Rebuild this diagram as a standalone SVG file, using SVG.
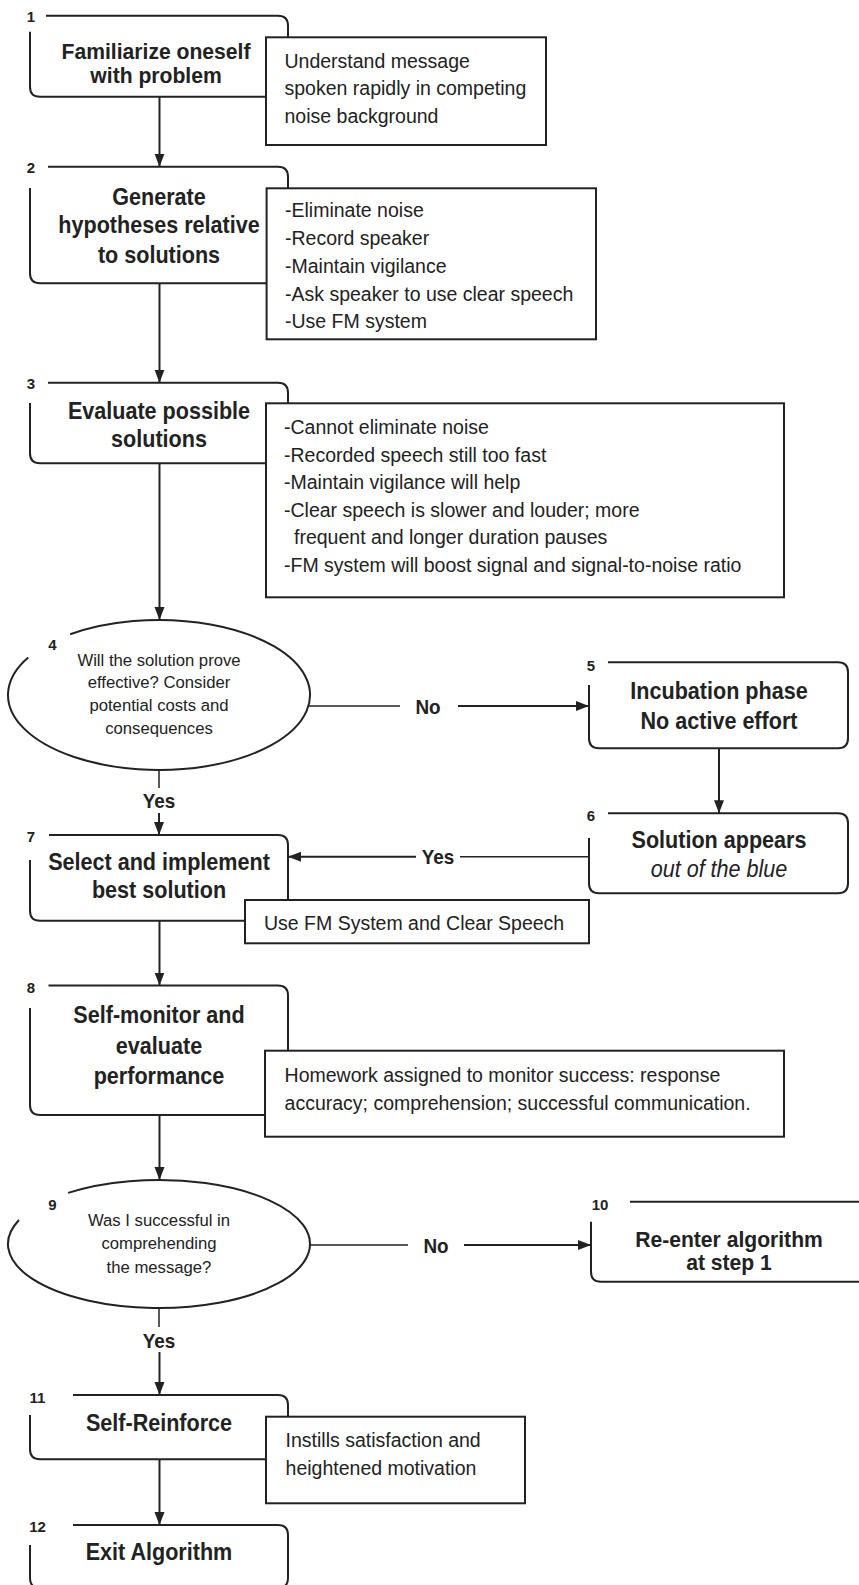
<svg xmlns="http://www.w3.org/2000/svg" width="859" height="1585" viewBox="0 0 859 1585">
  <style>
    .frame { fill: none; stroke: #222; stroke-width: 2; }
    .tbox { fill: #fff; stroke: #222; stroke-width: 2; }
    .conn { fill: none; stroke: #222; stroke-width: 2; }
    .thin { fill: none; stroke: #222; stroke-width: 1.5; }
    text { font-family: "Liberation Sans", Arial, sans-serif; fill: #222; }
    .title { font-weight: bold; font-size: 23.2px; text-anchor: middle; }
    .tight { font-size: 22px; }
    .body { font-size: 19.5px; }
    .q { font-size: 16.7px; text-anchor: middle; }
    .num { font-weight: bold; font-size: 15px; text-anchor: middle; }
    .lbl { font-weight: bold; font-size: 21px; text-anchor: middle; }
    .ital { font-style: italic; font-size: 23.2px; text-anchor: middle; }
  </style>
  <defs>
    <marker id="arrow" markerUnits="userSpaceOnUse" markerWidth="14" markerHeight="12" refX="13" refY="5" orient="auto">
      <path d="M0,0 L13,5 L0,10 z" fill="#222"/>
    </marker>
  </defs>
  <rect width="859" height="1585" fill="#fff"/>

  <!-- connectors -->
  <g id="connectors">
    <path class="conn" d="M159.5,96.7 V166.7" marker-end="url(#arrow)"/>
    <path class="conn" d="M159.5,283.3 V382.7" marker-end="url(#arrow)"/>
    <path class="conn" d="M159.5,463.3 V620" marker-end="url(#arrow)"/>
    <!-- decision 4: No -->
    <path class="thin" d="M308,706 H400"/>
    <text class="lbl" transform="translate(428,713.5) scale(0.9,1)">No</text>
    <path class="conn" d="M458,706 H589" marker-end="url(#arrow)"/>
    <!-- decision 4: Yes -->
    <path class="thin" d="M159,770.7 V788"/>
    <text class="lbl" transform="translate(159,808) scale(0.9,1)">Yes</text>
    <path class="conn" d="M159,813 V835" marker-end="url(#arrow)"/>
    <!-- 5 to 6 -->
    <path class="conn" d="M719,748.3 V813.3" marker-end="url(#arrow)"/>
    <!-- 6 to 7 -->
    <path class="thin" d="M589,856.7 H460"/>
    <text class="lbl" transform="translate(438,864) scale(0.9,1)">Yes</text>
    <path class="conn" d="M416,856.7 H288" marker-end="url(#arrow)"/>
    <!-- 7 to 8, 8 to 9 -->
    <path class="conn" d="M159.5,920.7 V985.5" marker-end="url(#arrow)"/>
    <path class="conn" d="M159.5,1115 V1180" marker-end="url(#arrow)"/>
    <!-- decision 9: No -->
    <path class="thin" d="M309,1245 H408"/>
    <text class="lbl" transform="translate(436,1252.5) scale(0.9,1)">No</text>
    <path class="conn" d="M464,1245 H591" marker-end="url(#arrow)"/>
    <!-- decision 9: Yes -->
    <path class="thin" d="M159,1308 V1327"/>
    <text class="lbl" transform="translate(159,1348) scale(0.9,1)">Yes</text>
    <path class="conn" d="M159.5,1352 V1395" marker-end="url(#arrow)"/>
    <!-- 11 to 12 -->
    <path class="conn" d="M159.5,1459.3 V1525" marker-end="url(#arrow)"/>
  </g>

  <!-- step 1 -->
  <g id="step1">
    <text class="num" x="31" y="22">1</text>
    <path class="frame" d="M46,15.7 H278 Q288,15.7 288,25.7 V37.3"/>
    <path class="frame" d="M30,31.7 V86.7 Q30,96.7 40,96.7 H266"/>
    <text class="title tight" transform="translate(156,58.5) scale(0.96,1)">Familiarize oneself</text>
    <text class="title tight" transform="translate(156,83) scale(0.96,1)">with problem</text>
    <rect class="tbox" x="266" y="37.3" width="280" height="107.7"/>
    <text class="body" x="284.5" y="67.7">Understand message</text>
    <text class="body" x="284.5" y="95">spoken rapidly in competing</text>
    <text class="body" x="284.5" y="122.7">noise background</text>
  </g>

  <!-- step 2 -->
  <g id="step2">
    <text class="num" x="31" y="173.3">2</text>
    <path class="frame" d="M48,166.7 H278 Q288,166.7 288,176.7 V188.3"/>
    <path class="frame" d="M30,188 V273.3 Q30,283.3 40,283.3 H266.6"/>
    <text class="title" transform="translate(159,205) scale(0.93,1)">Generate</text>
    <text class="title" transform="translate(159,233.3) scale(0.93,1)">hypotheses relative</text>
    <text class="title" transform="translate(159,263.3) scale(0.93,1)">to solutions</text>
    <rect class="tbox" x="266.6" y="188.3" width="329.4" height="151"/>
    <text class="body" x="285" y="217.3">-Eliminate noise</text>
    <text class="body" x="285" y="245">-Record speaker</text>
    <text class="body" x="285" y="272.7">-Maintain vigilance</text>
    <text class="body" x="285" y="300.7">-Ask speaker to use clear speech</text>
    <text class="body" x="285" y="328.3">-Use FM system</text>
  </g>

  <!-- step 3 -->
  <g id="step3">
    <text class="num" x="31" y="389.3">3</text>
    <path class="frame" d="M48,382.7 H278 Q288,382.7 288,392.7 V403.3"/>
    <path class="frame" d="M30,403 V453.3 Q30,463.3 40,463.3 H266"/>
    <text class="title" transform="translate(159,419.3) scale(0.93,1)">Evaluate possible</text>
    <text class="title" transform="translate(159,447.3) scale(0.93,1)">solutions</text>
    <rect class="tbox" x="266" y="403.3" width="518" height="194"/>
    <text class="body" x="284" y="434">-Cannot eliminate noise</text>
    <text class="body" x="284" y="461.7">-Recorded speech still too fast</text>
    <text class="body" x="284" y="489.3">-Maintain vigilance will help</text>
    <text class="body" x="284" y="516.7">-Clear speech is slower and louder; more</text>
    <text class="body" x="294" y="544">frequent and longer duration pauses</text>
    <text class="body" x="284" y="571.7">-FM system will boost signal and signal-to-noise ratio</text>
  </g>

  <!-- step 4: decision -->
  <g id="step4">
    <path class="frame" d="M70.2,634.3 A151,75 0 1 1 28.2,657.5"/>
    <text class="num" x="52.5" y="650">4</text>
    <text class="q" x="159" y="666">Will the solution prove</text>
    <text class="q" x="159" y="688">effective? Consider</text>
    <text class="q" x="159" y="711">potential costs and</text>
    <text class="q" x="159" y="734">consequences</text>
  </g>

  <!-- step 5 -->
  <g id="step5">
    <text class="num" x="591" y="670.5">5</text>
    <path class="frame" d="M608,662.3 H838 Q848,662.3 848,672.3 V738.3 Q848,748.3 838,748.3 H599 Q589,748.3 589,738.3 V685"/>
    <text class="title" transform="translate(719,698.7) scale(0.93,1)">Incubation phase</text>
    <text class="title" transform="translate(719,728.7) scale(0.93,1)">No active effort</text>
  </g>

  <!-- step 6 -->
  <g id="step6">
    <text class="num" x="591" y="821">6</text>
    <path class="frame" d="M608,813.3 H838 Q848,813.3 848,823.3 V883.3 Q848,893.3 838,893.3 H599 Q589,893.3 589,883.3 V838"/>
    <text class="title" transform="translate(719,848) scale(0.93,1)">Solution appears</text>
    <text class="ital" transform="translate(719,877) scale(0.93,1)">out of the blue</text>
  </g>

  <!-- step 7 -->
  <g id="step7">
    <text class="num" x="31" y="841.7">7</text>
    <path class="frame" d="M49,835 H278 Q288,835 288,845 V900"/>
    <path class="frame" d="M30,860 V910.7 Q30,920.7 40,920.7 H245"/>
    <text class="title" transform="translate(159,869.7) scale(0.93,1)">Select and implement</text>
    <text class="title" transform="translate(159,898) scale(0.93,1)">best solution</text>
    <rect class="tbox" x="245" y="900" width="344" height="43.3"/>
    <text class="body" x="264" y="930">Use FM System and Clear Speech</text>
  </g>

  <!-- step 8 -->
  <g id="step8">
    <text class="num" x="31" y="993">8</text>
    <path class="frame" d="M48.5,985.5 H278 Q288,985.5 288,995.5 V1050.7"/>
    <path class="frame" d="M30,1008 V1105 Q30,1115 40,1115 H265"/>
    <text class="title" transform="translate(159,1022.5) scale(0.93,1)">Self-monitor and</text>
    <text class="title" transform="translate(159,1053.7) scale(0.93,1)">evaluate</text>
    <text class="title" transform="translate(159,1084) scale(0.93,1)">performance</text>
    <rect class="tbox" x="265" y="1050.7" width="519" height="86"/>
    <text class="body" x="284.6" y="1082">Homework assigned to monitor success: response</text>
    <text class="body" x="284.6" y="1109.7">accuracy; comprehension; successful communication.</text>
  </g>

  <!-- step 9: decision -->
  <g id="step9">
    <path class="frame" d="M68.1,1192.9 A151,64 0 1 1 19,1220"/>
    <text class="num" x="52.5" y="1210">9</text>
    <text class="q" x="159" y="1226">Was I successful in</text>
    <text class="q" x="159" y="1249.3">comprehending</text>
    <text class="q" x="159" y="1272.7">the message?</text>
  </g>

  <!-- step 10 -->
  <g id="step10">
    <text class="num" x="600" y="1210">10</text>
    <path class="frame" d="M630,1201.7 H860"/>
    <path class="frame" d="M591,1221.7 V1271.7 Q591,1281.7 601,1281.7 H860"/>
    <text class="title tight" transform="translate(729,1246.5) scale(0.96,1)">Re-enter algorithm</text>
    <text class="title tight" transform="translate(729,1270) scale(0.96,1)">at step 1</text>
  </g>

  <!-- step 11 -->
  <g id="step11">
    <text class="num" x="37.5" y="1403">11</text>
    <path class="frame" d="M73,1395 H278 Q288,1395 288,1405 V1416.7"/>
    <path class="frame" d="M30,1415 V1449.3 Q30,1459.3 40,1459.3 H266"/>
    <text class="title" transform="translate(159,1431) scale(0.93,1)">Self-Reinforce</text>
    <rect class="tbox" x="266" y="1416.7" width="259" height="86.6"/>
    <text class="body" x="285.6" y="1447">Instills satisfaction and</text>
    <text class="body" x="285.6" y="1475">heightened motivation</text>
  </g>

  <!-- step 12 -->
  <g id="step12">
    <text class="num" x="37.5" y="1532">12</text>
    <path class="frame" d="M73,1525 H278 Q288,1525 288,1535 V1578 Q288,1588 278,1588"/>
    <path class="frame" d="M30,1545 V1578 Q30,1588 40,1588"/>
    <text class="title" transform="translate(159,1559.5) scale(0.93,1)">Exit Algorithm</text>
  </g>
</svg>
